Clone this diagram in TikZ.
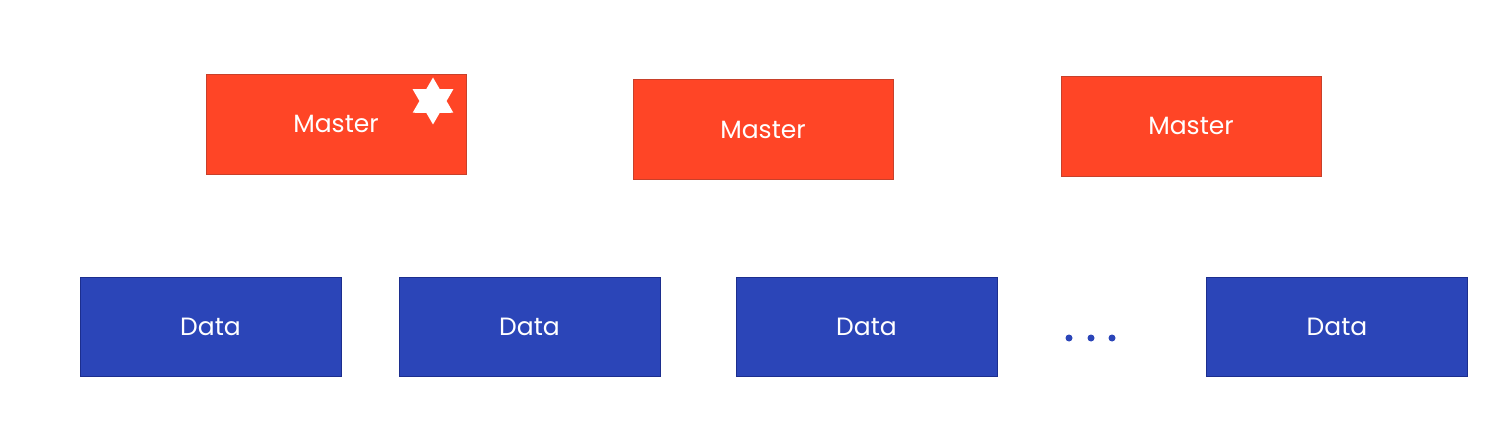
\documentclass[tikz,border=0pt]{standalone}
\usepackage{fontspec}
\setmainfont{Poppins}
\usetikzlibrary{shapes.geometric}
\definecolor{mred}{HTML}{FF4526}
\definecolor{mredb}{HTML}{C8402A}
\definecolor{dblue}{HTML}{2B45B8}
\definecolor{dblueb}{HTML}{1C2E8E}
\tikzset{
  masterbox/.style={draw=mredb, line width=0.8pt, fill=mred, minimum width=260pt, minimum height=100pt, text=white, font=\fontsize{25}{28}\selectfont, inner sep=0pt},
  databox/.style={draw=dblueb, line width=0.8pt, fill=dblue, minimum width=261pt, minimum height=99pt, text=white, font=\fontsize{25}{28}\selectfont, inner sep=0pt},
  dot/.style={circle, fill=dblue, minimum size=7pt, inner sep=0pt},
  starmark/.style={star, star points=6, star point ratio=1.73, fill=white, minimum size=47pt, inner sep=0pt}
}
\begin{document}
\begin{tikzpicture}[x=1pt,y=1pt]
\useasboundingbox (0,0) rectangle (1495,442);
\node[masterbox] (m1) at (336,318) {Master};
\node[masterbox] (m2) at (763,312.5) {Master};
\node[masterbox] (m3) at (1191,316) {Master};
\node[starmark] (st) at (433,341) {};
\node[databox] (d1) at (210.5,115.5) {Data};
\node[databox] (d2) at (529.5,115.5) {Data};
\node[databox] (d3) at (866.5,115.5) {Data};
\node[databox] (d4) at (1337,115.5) {Data};
\node[dot] (p1) at (1069,104) {};
\node[dot] (p2) at (1091,104) {};
\node[dot] (p3) at (1112,104) {};
\end{tikzpicture}
\end{document}
